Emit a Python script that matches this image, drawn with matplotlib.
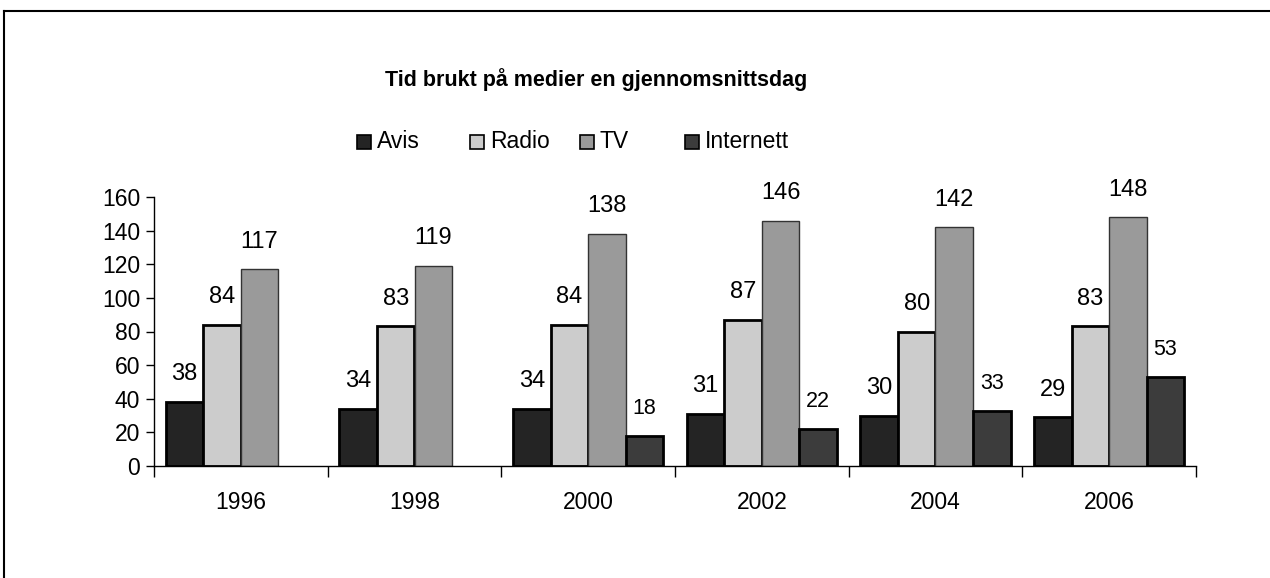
import matplotlib
matplotlib.use("Agg")
import matplotlib.pyplot as plt
import numpy as np
from matplotlib.patches import Rectangle
from matplotlib.lines import Line2D

plt.rcParams['font.family'] = ['Liberation Sans', 'DejaVu Sans']

years = ['1996', '1998', '2000', '2002', '2004', '2006']
series = ['Avis', 'Radio', 'TV', 'Internett']
avis = [38, 34, 34, 31, 30, 29]
radio = [84, 83, 84, 87, 80, 83]
tv = [117, 119, 138, 146, 142, 148]
internet = [0, 0, 18, 22, 33, 53]
values = [avis, radio, tv, internet]

colors = ['#242424', '#cccccc', '#9a9a9a', '#3c3c3c']
edge_w = [2.0, 2.0, 1.0, 2.0]
edge_c = ['black', 'black', '#333333', 'black']
label_size = [17, 17, 17, 15.5]

W, H = 1270, 578
fig = plt.figure(figsize=(W / 100, H / 100), dpi=100)
ax = fig.add_axes([154 / W, 1 - 466 / H, (1196 - 154) / W, (466 - 197) / H])

x = np.arange(len(years))
bw = 0.216
for k, vals in enumerate(values):
    pos = x + (k - 1.5) * bw
    for xi, v in zip(pos, vals):
        if v <= 0:
            continue
        ax.bar(xi, v, width=bw, color=colors[k], edgecolor=edge_c[k],
               linewidth=edge_w[k], zorder=2)
        ax.annotate(str(v), (xi, v), xytext=(0, 12), textcoords='offset points',
                    ha='center', va='bottom', fontsize=label_size[k])

ax.set_xlim(-0.5, len(years) - 0.5)
ax.set_ylim(0, 160)
ax.set_yticks(range(0, 161, 20))
ax.tick_params(axis='y', labelsize=16.5, length=6, width=1, direction='out', pad=4)
ax.set_xticks(x)
ax.set_xticklabels(years)
ax.set_xticks(np.arange(-0.5, len(years)), minor=True)
ax.tick_params(axis='x', which='major', length=0, labelsize=16.5, pad=18)
ax.tick_params(axis='x', which='minor', length=8, width=1, direction='out')
for s in ['top', 'right']:
    ax.spines[s].set_visible(False)
for s in ['left', 'bottom']:
    ax.spines[s].set_linewidth(1)

fig.text(596 / W, 1 - 80 / H, 'Tid brukt på medier en gjennomsnittsdag',
         fontsize=15.5, fontweight='bold', ha='center', va='center')

# legend, equal-width columns like Excel
leg_x = [357, 470, 580, 685]
leg_y = 142
sq = 14
for k, name in enumerate(series):
    fig.add_artist(Rectangle((leg_x[k] / W, 1 - (leg_y + sq / 2) / H), sq / W, sq / H,
                             facecolor=colors[k], edgecolor='black', linewidth=1.2,
                             transform=fig.transFigure))
    fig.text((leg_x[k] + sq + 6) / W, 1 - leg_y / H, name, fontsize=16.5,
             ha='left', va='center')

# outer frame (cut at right and bottom)
fig.add_artist(Line2D([4 / W, 1.0], [1 - 11 / H] * 2, color='black', lw=1.5,
                      transform=fig.transFigure))
fig.add_artist(Line2D([4 / W] * 2, [0, 1 - 11 / H], color='black', lw=1.5,
                      transform=fig.transFigure))

fig.savefig('out.png', dpi=100)
